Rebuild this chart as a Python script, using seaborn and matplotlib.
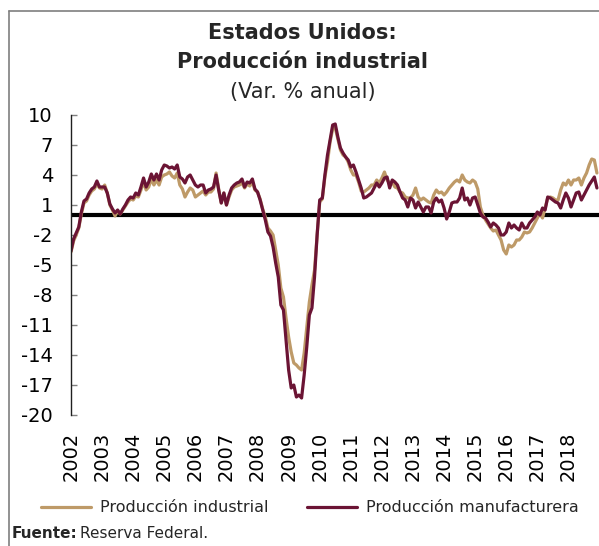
import numpy as np
import pandas as pd
import matplotlib
matplotlib.use("Agg")
import matplotlib.pyplot as plt
from matplotlib.lines import Line2D
import seaborn as sns

# ---- Data (monthly, Jan 2002 - Dec 2018), % yoy ----
industrial = [
    -3.7, -2.6, -2.0, -1.3, 0.1, 1.2, 1.4, 2.0, 2.4, 2.6, 3.1, 2.7,
    2.6, 3.0, 2.2, 1.0, 0.5, -0.1, 0.4, 0.1, 0.5, 0.9, 1.3, 1.6,
    1.5, 1.9, 1.8, 2.5, 3.3, 2.5, 2.8, 3.6, 3.0, 3.5, 3.0, 3.8,
    4.0, 4.1, 4.3, 3.9, 3.7, 4.2, 3.0, 2.6, 1.8, 2.3, 2.7, 2.5,
    1.8, 2.0, 2.2, 2.4, 2.0, 2.3, 2.3, 2.6, 4.2, 2.6, 1.2, 2.2,
    1.0, 1.8, 2.5, 2.8, 2.9, 3.0, 3.2, 2.7, 3.1, 2.9, 3.3, 2.5,
    2.3, 1.6, 0.6, -0.2, -1.3, -1.6, -2.0, -3.5, -5.0, -7.3, -8.2, -10.3,
    -12.2, -13.7, -14.8, -15.0, -15.3, -15.5, -13.8, -11.2, -8.7, -7.0, -5.5, -2.0,
    1.3, 1.6, 3.8, 5.3, 7.3, 8.6, 8.7, 7.6, 6.5, 6.0, 5.8, 5.3,
    4.5, 4.0, 4.0, 3.3, 2.4, 2.3, 2.5, 2.7, 3.0, 3.0, 3.5, 3.2,
    3.7, 4.3, 3.5, 3.2, 3.3, 2.8, 2.7, 2.3, 2.2, 1.8, 1.7, 1.7,
    2.0, 2.7, 1.8, 1.5, 1.7, 1.5, 1.3, 1.2, 2.0, 2.5, 2.2, 2.3,
    2.0, 2.3, 2.7, 3.0, 3.3, 3.5, 3.3, 4.0, 3.5, 3.3, 3.2, 3.5,
    3.3, 2.6, 0.8, 0.0, -0.5, -0.9, -1.3, -1.6, -1.5, -2.0, -2.5, -3.5,
    -3.9, -3.0, -3.2, -3.0, -2.5, -2.5, -2.2, -1.7, -1.8, -1.7, -1.3, -0.8,
    -0.3, 0.2, -0.3, 0.7, 1.7, 1.8, 1.7, 1.5, 1.5, 2.5, 3.2, 3.0,
    3.5, 3.0, 3.5, 3.5, 3.7, 3.0, 3.7, 4.2, 5.0, 5.6, 5.5, 4.2,
]
manufacturera = [
    -3.6, -2.4, -1.8, -1.2, 0.3, 1.4, 1.6, 2.2, 2.6, 2.8, 3.4, 2.8,
    2.8, 2.8, 2.2, 1.1, 0.6, 0.2, 0.5, 0.1, 0.6, 1.0, 1.5, 1.8,
    1.7, 2.2, 2.0, 2.8, 3.7, 2.8, 3.3, 4.1, 3.5, 4.1, 3.5, 4.5,
    5.0, 4.9, 4.7, 4.8, 4.6, 5.0, 3.8, 3.6, 3.2, 3.8, 4.0, 3.5,
    3.0, 2.8, 3.0, 3.0, 2.2, 2.5, 2.6, 2.8, 4.0, 2.5, 1.2, 2.2,
    1.0, 2.0, 2.7, 3.0, 3.2, 3.3, 3.6, 2.8, 3.3, 3.2, 3.6, 2.6,
    2.3, 1.5, 0.5, -0.5, -1.7, -2.1, -3.2, -4.8, -6.2, -9.0, -9.5, -12.5,
    -15.5, -17.3, -17.0, -18.2, -18.0, -18.3, -16.0, -13.2, -10.0, -9.3, -6.2, -2.0,
    1.5, 1.7, 4.0, 6.0, 7.5, 9.0, 9.1, 7.8, 6.7, 6.2, 5.8, 5.5,
    4.8, 5.0, 4.3, 3.5, 2.7, 1.7, 1.8, 2.0, 2.2, 2.7, 3.2, 2.8,
    3.2, 3.7, 3.8, 2.7, 3.5, 3.3, 3.0, 2.3, 1.7, 1.5, 0.8, 1.7,
    1.5, 0.7, 1.3, 0.8, 0.3, 0.8, 0.8, 0.2, 1.3, 1.7, 1.3, 1.5,
    0.7, -0.4, 0.3, 1.2, 1.3, 1.3, 1.7, 2.7, 1.5, 1.7, 1.0, 1.7,
    1.8, 1.0, 0.2, -0.2, -0.3, -0.7, -1.2, -0.8, -1.0, -1.3, -2.0, -2.0,
    -1.7, -0.8, -1.3, -1.0, -1.3, -1.5, -0.8, -1.3, -1.3, -0.8, -0.5, -0.2,
    0.3, 0.0, 0.7, 0.5, 1.8, 1.7, 1.5, 1.3, 1.2, 0.7, 1.5, 2.2,
    1.7, 0.8, 1.5, 2.2, 2.3, 1.5, 2.0, 2.5, 3.0, 3.4, 3.8, 2.7,
]
years = [str(y) for y in range(2002, 2019)]
yticks = [10, 7, 4, 1, -2, -5, -8, -11, -14, -17, -20]
series_names = ["Producción industrial", "Producción manufacturera"]
colors = ["#BE9A68", "#6B1434"]

mes = np.arange(len(industrial))
df = pd.DataFrame({
    "mes": np.concatenate([mes, mes]),
    "valor": industrial + manufacturera,
    "serie": [series_names[0]] * len(industrial) + [series_names[1]] * len(manufacturera),
})

sns.set_theme(style="white")
plt.rcParams["font.family"] = ["DejaVu Sans"]
plt.rcParams["axes.unicode_minus"] = False

fig = plt.figure(figsize=(5.99, 5.46), dpi=100)
ax = fig.add_axes([71 / 599, 1 - 415 / 546, (599 - 71) / 599, 300 / 546])

sns.lineplot(data=df, x="mes", y="valor", hue="serie", palette=colors,
             hue_order=series_names, linewidth=2.3, ax=ax, legend=False)
ax.axhline(0, color="black", linewidth=3, zorder=1)

ax.set_ylim(-20, 10)
ax.set_xlim(0, 203.8)
ax.set_yticks(yticks)
ax.set_yticklabels([str(v) for v in yticks], fontsize=14, color="black")
ax.set_xticks(np.arange(len(years)) * 12)
ax.set_xticklabels(years, rotation=90, fontsize=14, color="black")
ax.tick_params(axis="y", left=True, direction="in", length=4, width=1,
               color="#808080", pad=13)
ax.tick_params(axis="x", bottom=False, length=0, pad=12)
ax.set_xlabel("")
ax.set_ylabel("")
for s in ["top", "right", "bottom"]:
    ax.spines[s].set_visible(False)
ax.spines["left"].set_color("#202020")
ax.spines["left"].set_linewidth(1)

# Title
fig.text(0.505, 1 - 33 / 546, "Estados Unidos:", ha="center", va="center",
         fontsize=15, fontweight="bold")
fig.text(0.505, 1 - 62 / 546, "Producción industrial", ha="center", va="center",
         fontsize=15, fontweight="bold")
fig.text(0.505, 1 - 92 / 546, "(Var. % anual)", ha="center", va="center",
         fontsize=15)

# Legend
handles = [Line2D([], [], color=c, linewidth=2.3) for c in colors]
fig.legend(handles, series_names, loc="center", bbox_to_anchor=(0.518, 1 - 508 / 546),
           ncol=2, frameon=False, fontsize=11.5, handlelength=3.1,
           handletextpad=0.6, columnspacing=2.4)

# Source
fig.text(12 / 599, 1 - 538 / 546, "Fuente:", fontsize=11, fontweight="bold", va="baseline")
fig.text(80 / 599, 1 - 538 / 546, "Reserva Federal.", fontsize=11, va="baseline")

# Border (top and left visible)
fig.add_artist(Line2D([9 / 599, 9 / 599], [0, 1 - 11 / 546], transform=fig.transFigure,
                      color="#7f7f7f", linewidth=1.2))
fig.add_artist(Line2D([9 / 599, 1], [1 - 11 / 546, 1 - 11 / 546], transform=fig.transFigure,
                      color="#7f7f7f", linewidth=1.2))

fig.savefig("out.png", dpi=100)
